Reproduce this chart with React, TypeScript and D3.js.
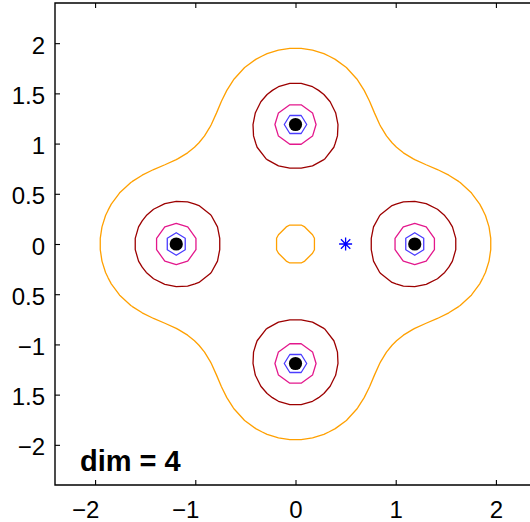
import React, { useEffect, useRef } from "react";
import * as d3 from "d3";

// sources (black dots) and the probe point (blue asterisk)
const centerX = [-1.19, 0, 1.19, 0];
const centerY = [0, 1.19, 0, -1.19];
const probeX = [0.5];
const probeY = [0];

// kernel of the field: sharp core + super-gaussian body
const coreWeight = 0.01;
const coreExp = 4;
const bodyScale = 0.9642;
const bodyExp = 3.2;

// contour levels (field values) and colours
const levels = [0.657, 1.28, 6.66, 64.5];
const levelColors = ["#ffa000", "#9c0000", "#e3178c", "#4b3cff"];

// axes
const yTickValues = [-2, -1.5, -1, -0.5, 0, 0.5, 1, 1.5, 2];
const yTickLabels = ["\u22122", "1.5", "\u22121", "0.5", "0", "0.5", "1", "1.5", "2"];
const xTickValues = [-2, -1, 0, 1, 2];
const xTickLabels = ["\u22122", "\u22121", "0", "1", "2"];
const annotation = "dim = 4";

const FONT = "'Liberation Sans', Arial, Helvetica, sans-serif";

function kernel(r: number) {
  return coreWeight / Math.pow(r, coreExp) + Math.exp(-Math.pow(r / bodyScale, bodyExp));
}

function field(px: number, py: number) {
  let f = 0;
  for (let i = 0; i < centerX.length; i++) {
    f += kernel(Math.hypot(px - centerX[i], py - centerY[i]));
  }
  return f;
}

// radius at which a single source alone would give the value f
function equivRadius(f: number) {
  let lo = 1e-4;
  let hi = 20;
  for (let k = 0; k < 60; k++) {
    const mid = (lo + hi) / 2;
    if (kernel(mid) > f) lo = mid;
    else hi = mid;
  }
  return (lo + hi) / 2;
}

export default function App() {
  const svgRef = useRef<SVGSVGElement | null>(null);

  useEffect(() => {
    if (!svgRef.current) return;
    const svg = d3.select(svgRef.current);
    svg.selectAll("*").remove();

    const width = 530;
    const height = 522;
    const margin = { top: 3, left: 55, bottom: 37 };
    const bottom = height - margin.bottom;
    const right = 536; // right edge of the box falls just outside the picture

    const x = d3.scaleLinear().domain([-2.4, 2.4]).range([margin.left, right]);
    const y = d3.scaleLinear().domain([-2.4, 2.4]).range([bottom, margin.top]);

    svg.attr("width", width).attr("height", height);
    svg.append("rect").attr("width", width).attr("height", height).attr("fill", "#fff");

    // sample the field on a coarse grid (nodes at (k + 0.5) * h)
    const h = 1.19 / 10.5;
    const n = 42;
    const values = new Array(n * n);
    for (let j = 0; j < n; j++) {
      for (let i = 0; i < n; i++) {
        const gx = (i - n / 2 + 0.5) * h;
        const gy = (n / 2 - 0.5 - j) * h;
        values[j * n + i] = -equivRadius(field(gx, gy));
      }
    }

    const proj = d3.geoTransform({
      point(px: number, py: number) {
        this.stream.point(x((px - n / 2) * h), y((n / 2 - py) * h));
      },
    });
    const path = d3.geoPath(proj);
    const gen = d3.contours().size([n, n]);

    const plot = svg.append("g");
    levels.forEach((lv, i) => {
      const c = gen.contour(values, -equivRadius(lv));
      plot
        .append("path")
        .attr("d", path(c as any))
        .attr("fill", "none")
        .attr("stroke", levelColors[i])
        .attr("stroke-width", 1.3)
        .attr("stroke-linejoin", "round");
    });

    plot
      .selectAll(".dot")
      .data(centerX)
      .enter()
      .append("circle")
      .attr("class", "dot")
      .attr("cx", (d) => x(d))
      .attr("cy", (_, i) => y(centerY[i]))
      .attr("r", 6.6)
      .attr("fill", "#000");

    probeX.forEach((px, i) => {
      const cx = x(px);
      const cy = y(probeY[i]);
      const s = 6.5;
      const d = s * 0.72;
      const p = d3.path();
      p.moveTo(cx - s, cy);
      p.lineTo(cx + s, cy);
      p.moveTo(cx, cy - s);
      p.lineTo(cx, cy + s);
      p.moveTo(cx - d, cy - d);
      p.lineTo(cx + d, cy + d);
      p.moveTo(cx - d, cy + d);
      p.lineTo(cx + d, cy - d);
      plot
        .append("path")
        .attr("d", p.toString())
        .attr("fill", "none")
        .attr("stroke", "#0000ff")
        .attr("stroke-width", 1.3);
    });

    // axes
    const fs = 24;
    const left = svg
      .append("g")
      .attr("transform", `translate(${margin.left},0)`)
      .call(
        d3
          .axisLeft(y)
          .tickValues(yTickValues)
          .tickSize(-5)
          .tickPadding(10)
          .tickFormat((_, i) => yTickLabels[i])
      );
    left.select(".domain").remove();
    left.selectAll("text").attr("dy", "0.42em");

    const bottomAxis = svg
      .append("g")
      .attr("transform", `translate(0,${bottom})`)
      .call(
        d3
          .axisBottom(x)
          .tickValues(xTickValues)
          .tickSize(-5)
          .tickPadding(16)
          .tickFormat((_, i) => xTickLabels[i])
      );
    bottomAxis.select(".domain").remove();
    // negative labels: the digit sits on the tick, the minus hangs to the left
    bottomAxis
      .selectAll<SVGTextElement, number>("text")
      .filter((_, i) => xTickLabels[i].startsWith("\u2212"))
      .attr("text-anchor", "end")
      .attr("x", fs * 0.556 / 2 - 3);

    const topAxis = svg
      .append("g")
      .attr("transform", `translate(0,${margin.top})`)
      .call(d3.axisTop(x).tickValues(xTickValues).tickSize(-5).tickFormat(() => ""));
    topAxis.select(".domain").remove();

    [left, bottomAxis, topAxis].forEach((g) => {
      g.attr("font-family", FONT).attr("font-size", fs);
      g.selectAll("text").attr("fill", "#000");
      g.selectAll("line").attr("stroke", "#000").attr("stroke-width", 1.1);
    });

    svg
      .append("path")
      .attr("d", `M${right},${bottom}H${margin.left}V${margin.top}H${right}`)
      .attr("fill", "none")
      .attr("stroke", "#000")
      .attr("stroke-width", 1.4);

    svg
      .append("text")
      .attr("x", 80)
      .attr("y", 471)
      .attr("font-family", FONT)
      .attr("font-size", 29)
      .attr("font-weight", "bold")
      .attr("fill", "#000")
      .text(annotation);
  }, []);

  return (
    <div style={{ position: "absolute", left: 0, top: 0 }}>
      <svg ref={svgRef} style={{ display: "block" }}></svg>
    </div>
  );
}
